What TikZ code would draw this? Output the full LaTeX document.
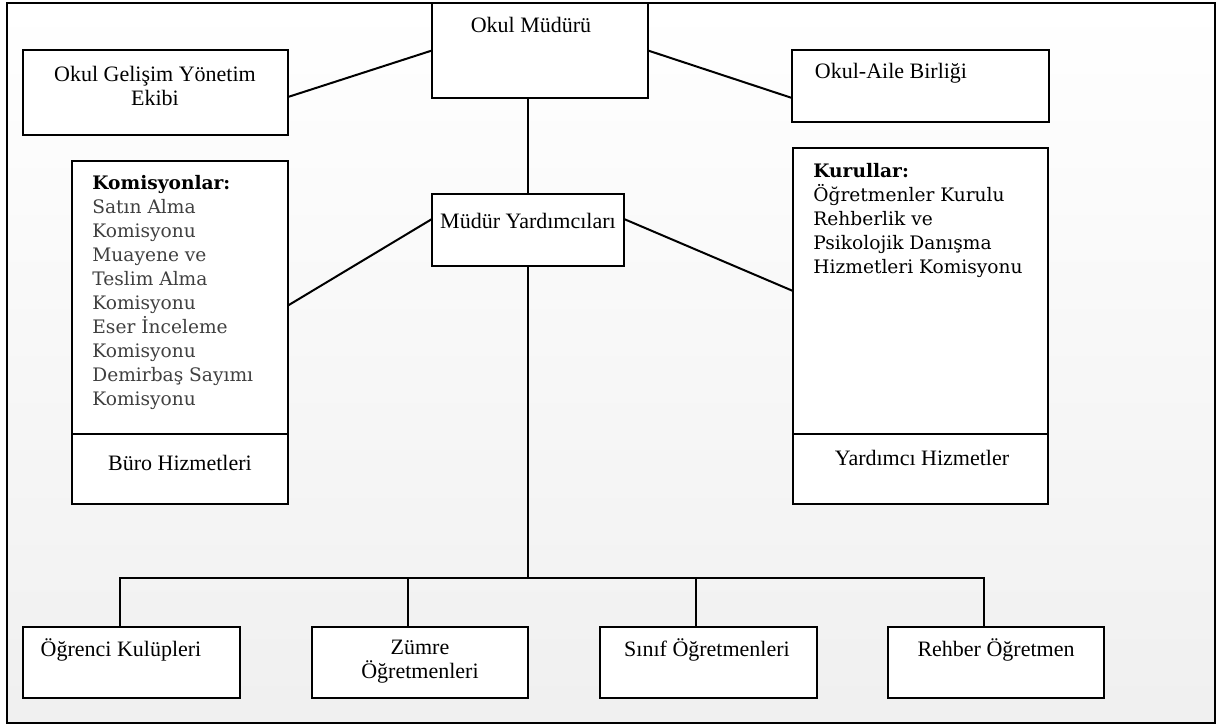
\documentclass[tikz,border=0pt]{standalone}
\usepackage{fontspec}
\setmainfont{Liberation Serif}
\newfontfamily\listefont{DejaVu Serif}
\usepackage{xcolor}
\usepackage{tikz}
\definecolor{listegri}{RGB}{64,64,64}

\tikzset{
    kutu/.style={draw, line width=1pt, fill=white, inner sep=0pt, outer sep=0pt},
    yazi/.style={font=\fontsize{11}{12}\selectfont, align=center, inner sep=0pt},
    liste/.style={font=\listefont\fontsize{9.3}{12}\selectfont, align=left, inner sep=0pt, anchor=north west},
    cizgi/.style={line width=1pt}
}

\begin{document}
\begin{tikzpicture}[x=0.5pt, y=-0.5pt]
        \useasboundingbox (0,0) rectangle (1217,727);
        % cerceve
        \shade[top color=white, bottom color=black!6] (7,3) rectangle (1215,723);
        \draw[line width=1.2pt] (7,3) rectangle (1215,723);

        % ust kutular
        \node[kutu, minimum width=108pt, minimum height=47.5pt] (mudur) at (540,50.5) {};
        \node[kutu, minimum width=132.5pt, minimum height=42.5pt] (ogye) at (155.5,92.5) {};
        \node[kutu, minimum width=128.5pt, minimum height=36pt] (aile) at (920.5,86) {};
        \node[kutu, minimum width=96pt, minimum height=36pt] (yardimci) at (528,230) {};

        % yan kutular
        \node[kutu, minimum width=108pt, minimum height=136.5pt] (komisyon) at (180,297.5) {};
        \node[kutu, minimum width=108pt, minimum height=35pt] (buro) at (180,469) {};
        \node[kutu, minimum width=127.5pt, minimum height=143pt] (kurul) at (920.5,291) {};
        \node[kutu, minimum width=127.5pt, minimum height=35pt] (yhizmet) at (920.5,469) {};

        % alt kutular
        \node[kutu, minimum width=108.5pt, minimum height=35.5pt] (ogrenci) at (131.5,662.5) {};
        \node[kutu, minimum width=108pt, minimum height=35.5pt] (zumre) at (420,662.5) {};
        \node[kutu, minimum width=108.5pt, minimum height=35.5pt] (sinif) at (708.5,662.5) {};
        \node[kutu, minimum width=108pt, minimum height=35.5pt] (rehber) at (996,662.5) {};

        % yazilar
        \node[yazi] (mudurY) at (531,25) {Okul Müdürü};
        \node[yazi] (ogyeY) at (155,85.5) {Okul Gelişim Yönetim\\Ekibi};
        \node[yazi] (aileY) at (891,73) {Okul-Aile Birliği};
        \node[yazi] (yardimciY) at (528,221) {Müdür Yardımcıları};
        \node[liste, text=listegri] (komisyonY) at (92,175) {\textcolor{black}{\textbf{Komisyonlar:}}\\
            Satın Alma\\Komisyonu\\Muayene ve\\Teslim Alma\\Komisyonu\\Eser İnceleme\\Komisyonu\\Demirbaş Sayımı\\Komisyonu};
        \node[liste] (kurulY) at (813,163) {\textbf{Kurullar:}\\
            Öğretmenler Kurulu\\Rehberlik ve\\Psikolojik Danışma\\Hizmetleri Komisyonu};
        \node[yazi] (buroY) at (180,463) {Büro Hizmetleri};
        \node[yazi] (yhizmetY) at (922,458) {Yardımcı Hizmetler};
        \node[yazi] (ogrenciY) at (121,650) {Öğrenci Kulüpleri};
        \node[yazi] (zumreY) at (420,661.5) {Zümre\\Öğretmenleri};
        \node[yazi] (sinifY) at (707,650) {Sınıf Öğretmenleri};
        \node[yazi] (rehberY) at (996,650) {Rehber Öğretmen};

        % baglantilar
        \draw[cizgi] ([yshift=-2.25pt]ogye.east) -- (mudur.west);
        \draw[cizgi] (mudur.east) -- ([yshift=-6pt]aile.west);
        \draw[cizgi] (yardimci.north) -- (yardimci.north |- mudur.south);
        \draw[cizgi] ([yshift=5.5pt]yardimci.west) -- ([yshift=-4pt]komisyon.east);
        \draw[cizgi] ([yshift=5.5pt]yardimci.east) -- (kurul.west);

        \coordinate (kol) at (528,578);
        \coordinate (d1) at (120,578);
        \coordinate (d2) at (408,578);
        \coordinate (d3) at (696,578);
        \coordinate (d4) at (984,578);
        \draw[cizgi] (yardimci.south) -- (kol);
        \draw[cizgi] (d1 |- ogrenci.north) -- (d1) -- (d4) -- (d4 |- rehber.north);
        \draw[cizgi] (d2) -- (d2 |- zumre.north);
        \draw[cizgi] (d3) -- (d3 |- sinif.north);
    \end{tikzpicture}
\end{document}
